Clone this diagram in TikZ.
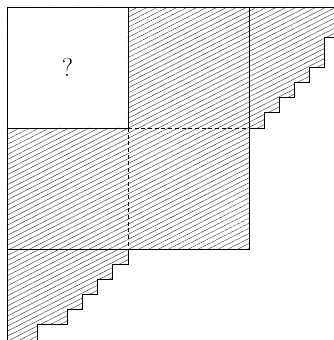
\documentclass[tikz,border=0pt]{standalone}
\usetikzlibrary{patterns.meta}
\begin{document}
\begin{tikzpicture}[x=15.125pt,y=-15.125pt,
  edge/.style={line width=0.8pt,black},
  hatch/.style={pattern={Lines[angle=27,distance=4.5pt,line width=0.5pt]},pattern color=black!70},
  dashedge/.style={line width=0.7pt,dash pattern=on 4pt off 2.7pt}]
\def\R{21.62}
\def\B{22.02}
\useasboundingbox (-0.4628,-0.4628) rectangle (\R,\B);
% hatched area
\path[hatch,even odd rule]
  (0,0) -- (\R,0) -- (\R,2) -- (21,2) -- (21,4) -- (20,4) -- (20,5) -- (19,5) -- (19,6)
  -- (18,6) -- (18,7) -- (17,7) -- (17,8) -- (16,8) -- (16,16) -- (8,16) -- (8,17)
  -- (7,17) -- (7,18) -- (6,18) -- (6,19) -- (5,19) -- (5,20) -- (4,20) -- (4,21)
  -- (2,21) -- (2,\B) -- (0,\B) -- cycle
  (0,0) rectangle (8,8);
% dashed inner lines
\coordinate (c) at (8,8);
\coordinate (cr) at (16,8);
\coordinate (cb) at (8,16);
\draw[dashedge] (c) -- (cr);
\draw[dashedge] (c) -- (cb);
% solid lines
\draw[edge] (0,\B) -- (0,0) -- (\R,0);
\draw[edge] (8,0) -- (8,8) -- (0,8);
\draw[edge] (16,0) -- (16,16) -- (0,16);
\draw[edge] (16,8) -- (17,8) -- (17,7) -- (18,7) -- (18,6) -- (19,6) -- (19,5)
  -- (20,5) -- (20,4) -- (21,4) -- (21,2) -- (\R,2);
\draw[edge] (8,16) -- (8,17) -- (7,17) -- (7,18) -- (6,18) -- (6,19) -- (5,19)
  -- (5,20) -- (4,20) -- (4,21) -- (2,21) -- (2,\B);
\node[font=\fontsize{26}{28}\selectfont] (q) at (4,4) {?};
\end{tikzpicture}
\end{document}
